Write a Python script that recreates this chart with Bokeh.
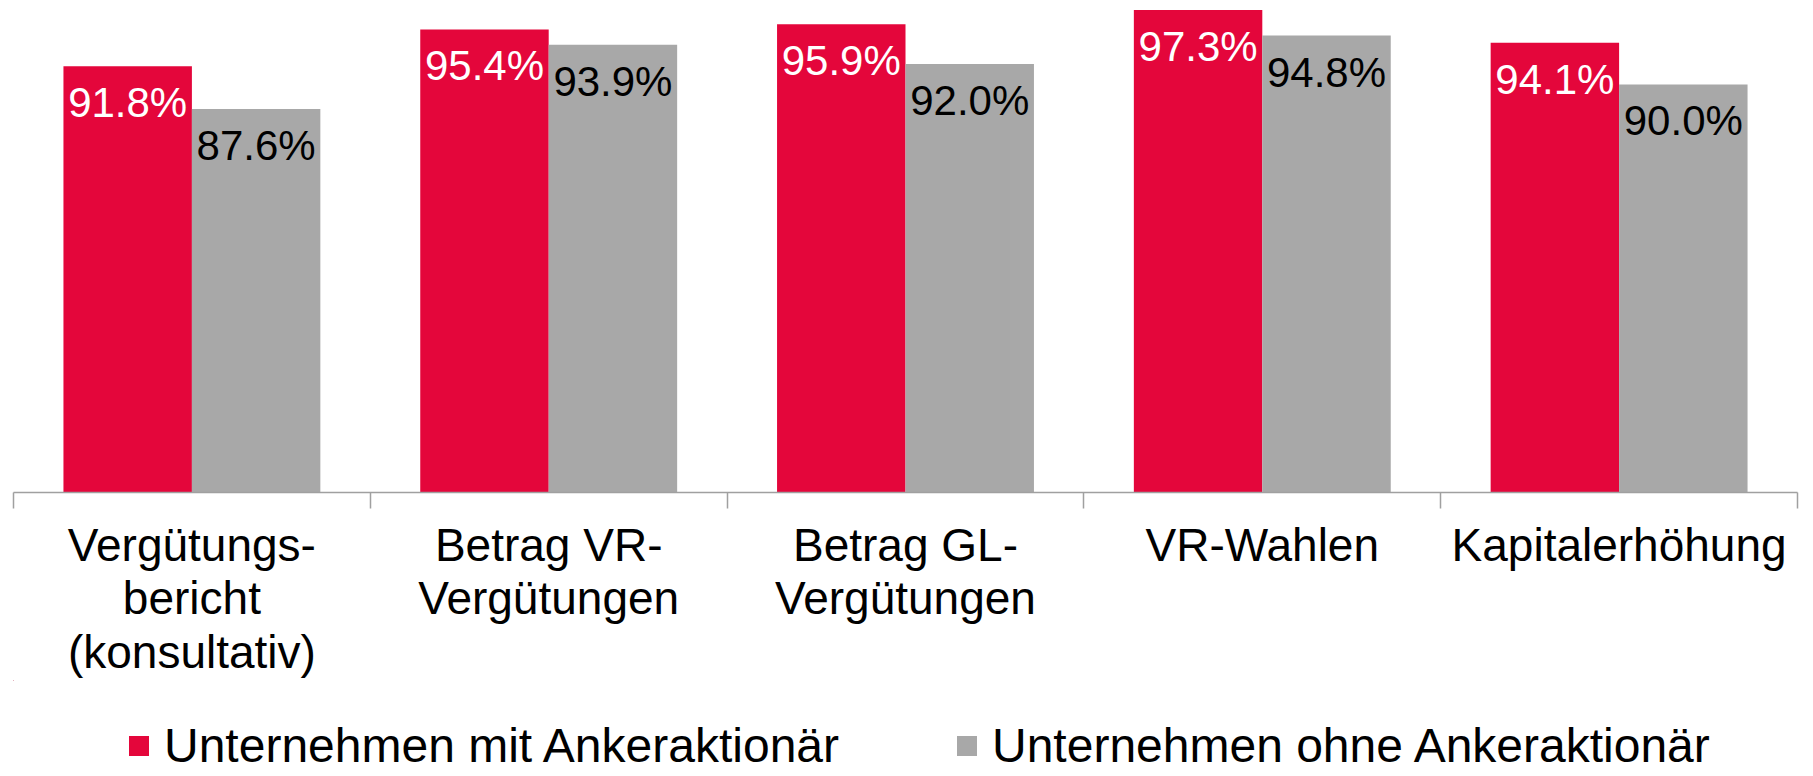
import numpy as np
from bokeh.plotting import figure
from bokeh.layouts import column
from bokeh.models import (ColumnDataSource, Range1d, FixedTicker, LabelSet,
                          Legend, LegendItem, LinearAxis)
from bokeh.core.properties import value
from bokeh.transform import dodge
from bokeh.embed import file_html
from bokeh.resources import INLINE

categories = ["Vergütungs-\nbericht\n(konsultativ)", "Betrag VR-\nVergütungen",
              "Betrag GL-\nVergütungen", "VR-Wahlen", "Kapitalerhöhung"]
mit = [91.8, 95.4, 95.9, 97.3, 94.1]
ohne = [87.6, 93.9, 92.0, 94.8, 90.0]
series = ["Unternehmen mit Ankeraktionär", "Unternehmen ohne Ankeraktionär"]
colors = ["#E4063B", "#A8A8A8"]

Y_MIN = 50
FONT = "Liberation Sans"
FIG_W = 1809

n = len(categories)
centers = [i + 0.5 for i in range(n)]
src = ColumnDataSource(dict(
    x=centers, mit=mit, ohne=ohne,
    mit_lbl=[f"{v:.1f}%" for v in mit],
    ohne_lbl=[f"{v:.1f}%" for v in ohne],
    base=[Y_MIN] * n,
))

p = figure(frame_width=1784, frame_height=484, x_range=Range1d(0, n),
           y_range=Range1d(Y_MIN, 97.45),
           output_backend="svg", toolbar_location=None,
           min_border_left=13, min_border_right=FIG_W - 13 - 1784,
           min_border_top=8, min_border_bottom=0)
p.outline_line_color = None
p.grid.visible = False
p.yaxis.visible = False
p.xaxis.visible = False

W = 0.36
p.vbar(x=dodge("x", -W / 2), top="mit", bottom="base", width=W, source=src,
       fill_color=colors[0], line_color=None)
p.vbar(x=dodge("x", W / 2), top="ohne", bottom="base", width=W, source=src,
       fill_color=colors[1], line_color=None)

p.add_layout(LabelSet(x=dodge("x", -W / 2), y="mit", text="mit_lbl", source=src,
                      text_align="center", text_baseline="middle", y_offset=-36.5,
                      text_color="white", text_font=value(FONT), text_font_size="42px"))
p.add_layout(LabelSet(x=dodge("x", W / 2), y="ohne", text="ohne_lbl", source=src,
                      text_align="center", text_baseline="middle", y_offset=-36.5,
                      text_color="black", text_font=value(FONT), text_font_size="42px"))

ax = LinearAxis(ticker=FixedTicker(ticks=centers, minor_ticks=list(range(n + 1))))
ax.major_label_overrides = {c: lab for c, lab in zip(centers, categories)}
ax.axis_line_color = "#A0A0A0"
ax.axis_line_width = 1.5
ax.major_tick_line_color = None
ax.major_tick_out = 16
ax.major_tick_in = 0
ax.minor_tick_line_color = "#A0A0A0"
ax.minor_tick_line_width = 1.5
ax.minor_tick_out = 16
ax.minor_tick_in = 0
ax.major_label_standoff = 10
ax.major_label_text_font = FONT
ax.major_label_text_font_size = "46px"
ax.major_label_text_color = "black"
ax.major_label_text_line_height = 1.03
p.add_layout(ax, "below")

# legend strip below the chart (its swatch renderers lie far outside the strip's visible range)
pl = figure(width=FIG_W, height=93, x_range=Range1d(100, 101), y_range=Range1d(0, 1),
            output_backend="svg", toolbar_location=None, min_border=0)
pl.outline_line_color = None
pl.grid.visible = False
pl.axis.visible = False
k1 = pl.vbar(x="x", top="mit", bottom="base", width=0.1, source=src,
             fill_color=colors[0], line_color=None)
k2 = pl.vbar(x="x", top="ohne", bottom="base", width=0.1, source=src,
             fill_color=colors[1], line_color=None)
legend = Legend(items=[LegendItem(label=series[0], renderers=[k1]),
                       LegendItem(label=series[1], renderers=[k2])],
                orientation="horizontal", location=(113, 0),
                glyph_width=25, glyph_height=25, label_standoff=13, spacing=115,
                padding=0, margin=0, border_line_color=None, background_fill_alpha=0,
                label_text_font=FONT, label_text_font_size="48px", label_text_color="black")
pl.add_layout(legend, "center")

layout = column(p, pl, spacing=0)
open("out.html", "w").write(file_html(layout, INLINE))
